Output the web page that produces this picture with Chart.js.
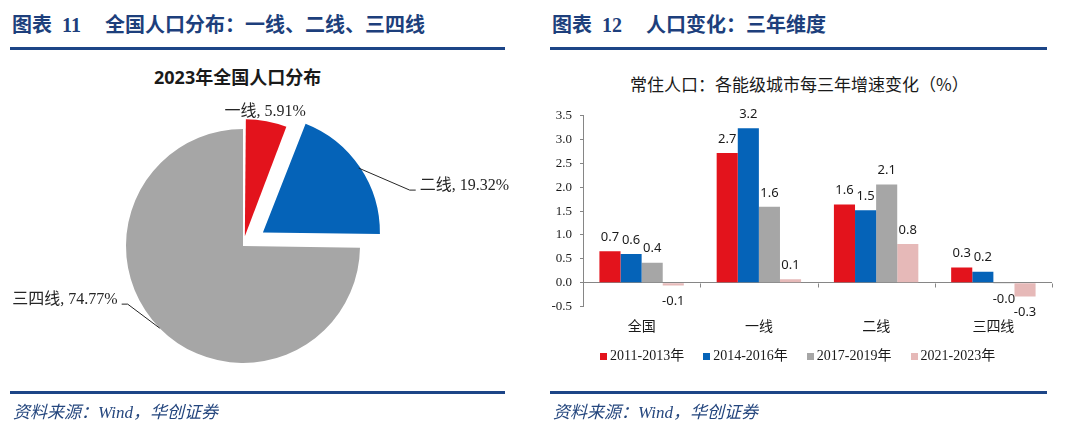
<!DOCTYPE html>
<html>
<head>
<meta charset="utf-8">
<script src="https://cdn.jsdelivr.net/npm/chart.js@4.4.0/dist/chart.umd.min.js"></script>
<style>
  body { margin: 0; width: 1080px; height: 432px; background: #fff; position: relative; overflow: hidden;
         font-family: "Liberation Serif", "Noto Sans CJK SC", serif; }
  .hd { position: absolute; top: 12px; font-weight: bold; font-size: 20px; line-height: 26px; color: #1d3f7c; white-space: nowrap; }
  .rule { position: absolute; height: 3px; background: #1c4587; z-index: 2; }
  .ft { position: absolute; top: 401px; font-style: italic; font-size: 17px; line-height: 24px; color: #24467e; white-space: nowrap; }
  .ctitle { position: absolute; white-space: nowrap; color: #1a1a1a; }
  #pieWrap { position: absolute; left: 0; top: 60px; width: 540px; height: 372px; }
  #barWrap { position: absolute; left: 540px; top: 100px; width: 530px; height: 250px; }
  #legend { position: absolute; left: 600px; top: 346px; display: flex; font-size: 14px; line-height: 20px; color: #1a1a1a; }
  #legend .item { display: flex; align-items: center; margin-right: 19px; }
  #legend .box { width: 7px; height: 7px; margin-right: 3px; }
</style>
</head>
<body>

<div class="hd" style="left:12px">图表<span style="margin-left:10px">11</span><span style="margin-left:24px">全国人口分布：一线、二线、三四线</span></div>
<div class="rule" style="left:10px; width:495px; top:47px"></div>
<div class="hd" style="left:552px">图表<span style="margin-left:10px">12</span><span style="margin-left:24px">人口变化：三年维度</span></div>
<div class="rule" style="left:550px; width:497px; top:47px"></div>

<div class="ctitle" style="left:154px; top:63px; font-size:18px; font-weight:bold; font-family:'Noto Sans','Noto Sans CJK SC',sans-serif;">2023年全国人口分布</div>
<div class="ctitle" style="left:630px; top:71px; font-size:17px; font-family:'Noto Sans CJK SC',sans-serif;">常住人口：各能级城市每三年增速变化（%）</div>

<div id="pieWrap"><canvas id="pieChart"></canvas></div>
<div id="barWrap"><canvas id="barChart"></canvas></div>
<div id="legend"></div>

<div class="rule" style="left:10px; width:495px; top:391px"></div>
<div class="rule" style="left:550px; width:497px; top:391px"></div>
<div class="ft" style="left:13px">资料来源：Wind，华创证券</div>
<div class="ft" style="left:553px">资料来源：Wind，华创证券</div>

<script>
// ---- pie data ----
const pieLabels = ["一线", "二线", "三四线"];
const pieValues = [5.91, 19.32, 74.77];
const pieColors = ["#e3131c", "#0563b8", "#a6a6a6"];

// ---- bar data ----
const cities = ["全国", "一线", "二线", "三四线"];
const periods = ["2011-2013年", "2014-2016年", "2017-2019年", "2021-2023年"];
const g2011 = [0.66, 2.72, 1.64, 0.32];
const g2014 = [0.60, 3.24, 1.52, 0.23];
const g2017 = [0.42, 1.59, 2.06, -0.02];
const g2021 = [-0.06, 0.07, 0.81, -0.29];
const barColors = ["#e3131c", "#0563b8", "#a6a6a6", "#e6b9b8"];

// -------------------------------
// Pie: keep exploded slices at the same radius
// (chart.js grows small offset arcs a bit)
// -------------------------------
const evenRadiusPlugin = {
  id: "evenRadius",
  afterDatasetUpdate(chart, args) {
    args.meta.data.forEach(arc => {
      const shift = (arc.options.offset || 0) / 4;
      const fix = 1 - Math.sin(Math.min(Math.PI, arc.circumference || 0));
      arc.outerRadius -= shift * fix;
    });
  }
};

// -------------------------------
// Pie labels with leader lines
// -------------------------------
const labelLayout = [
  { type: "above" },
  { type: "line", dx: 51, dy: 22, side: 1 },
  { type: "line", dx: -32, dy: -24, side: -1 }
];

const pieLabelPlugin = {
  id: "pieLabels",
  afterDatasetsDraw(chart) {
    const ctx = chart.ctx;
    const meta = chart.getDatasetMeta(0);
    ctx.save();
    ctx.font = '16px "Liberation Serif", "Noto Sans CJK SC"';
    ctx.fillStyle = "#262626";
    ctx.strokeStyle = "#262626";
    ctx.lineWidth = 1;
    meta.data.forEach((arc, i) => {
      const mid = (arc.startAngle + arc.endAngle) / 2;
      const shift = (arc.options.offset || 0) / 4;
      const r = arc.outerRadius + shift;
      const ex = arc.x + Math.cos(mid) * r;
      const ey = arc.y + Math.sin(mid) * r;
      const text = pieLabels[i] + ", " + pieValues[i].toFixed(2) + "%";
      const lay = labelLayout[i];
      if (lay.type === "above") {
        ctx.textAlign = "center";
        ctx.textBaseline = "middle";
        ctx.fillText(text, ex, ey - 16);
      } else {
        const bx = ex + lay.dx, by = ey + lay.dy;
        const cx = bx + lay.side * 6;
        ctx.beginPath();
        ctx.moveTo(ex, ey);
        ctx.lineTo(bx, by);
        ctx.lineTo(cx, by);
        ctx.stroke();
        ctx.textAlign = lay.side > 0 ? "left" : "right";
        ctx.textBaseline = "middle";
        ctx.fillText(text, cx + lay.side * 4, by - 4);
      }
    });
    ctx.restore();
  }
};

new Chart(document.getElementById("pieChart"), {
  type: "pie",
  data: {
    labels: pieLabels,
    datasets: [{
      data: pieValues,
      backgroundColor: pieColors,
      borderWidth: 0,
      offset: [40, 96, 0],
      hoverOffset: 0
    }]
  },
  options: {
    responsive: true,
    maintainAspectRatio: false,
    animation: false,
    layout: { padding: { left: 78, right: 132, top: 21, bottom: 21 } },
    plugins: { legend: { display: false }, tooltip: { enabled: false } }
  },
  plugins: [evenRadiusPlugin, pieLabelPlugin]
});

// -------------------------------
// Bar value labels + category ticks
// -------------------------------
const barValuePlugin = {
  id: "barValues",
  afterDatasetsDraw(chart) {
    const ctx = chart.ctx;
    ctx.save();
    ctx.font = '13px "Noto Sans", sans-serif';
    ctx.fillStyle = "#1a1a1a";
    ctx.textAlign = "center";
    ctx.textBaseline = "middle";
    chart.data.datasets.forEach((ds, i) => {
      chart.getDatasetMeta(i).data.forEach((bar, j) => {
        const v = ds.data[j];
        const y = v >= 0 ? bar.y - 14 : bar.y + 16;
        ctx.fillText(v.toFixed(1), bar.x, y);
      });
    });
    ctx.restore();
  }
};

const catTickPlugin = {
  id: "catTicks",
  afterDraw(chart) {
    const ctx = chart.ctx;
    const xs = chart.scales.x, ys = chart.scales.y;
    const y0 = Math.round(ys.getPixelForValue(0)) + 0.5;
    const step = xs.width / cities.length;
    ctx.save();
    ctx.strokeStyle = "#868686";
    ctx.lineWidth = 1;
    ctx.beginPath();
    for (let i = 1; i <= cities.length; i++) {
      const px = Math.round(xs.left + i * step) + 0.5;
      ctx.moveTo(px, y0);
      ctx.lineTo(px, y0 + 4);
    }
    ctx.stroke();
    ctx.restore();
  }
};

const series = [g2011, g2014, g2017, g2021];

new Chart(document.getElementById("barChart"), {
  type: "bar",
  data: {
    labels: cities,
    datasets: series.map((d, i) => ({
      label: periods[i],
      data: d,
      backgroundColor: barColors[i],
      borderWidth: 0,
      categoryPercentage: 0.72,
      barPercentage: 1.0
    }))
  },
  options: {
    responsive: true,
    maintainAspectRatio: false,
    animation: false,
    layout: { padding: { left: 0, right: 18, top: 14, bottom: 0 } },
    plugins: { legend: { display: false }, tooltip: { enabled: false } },
    scales: {
      x: {
        grid: { display: false, drawTicks: false },
        border: { display: false },
        ticks: { font: { family: "Noto Sans CJK SC", size: 14 }, color: "#1a1a1a", padding: 11 },
        afterFit: (s) => { s.height = 43.5; }
      },
      y: {
        min: -0.5,
        max: 3.5,
        ticks: {
          stepSize: 0.5,
          font: { family: "Liberation Serif", size: 13 },
          color: "#1a1a1a",
          padding: 8,
          callback: (v) => v.toFixed(1)
        },
        grid: {
          color: (c) => (c.tick && c.tick.value === 0 ? "#868686" : "rgba(0,0,0,0)"),
          tickColor: "#868686",
          tickLength: 3
        },
        border: { display: true, color: "#868686" },
        afterFit: (s) => { s.width = 43; }
      }
    }
  },
  plugins: [barValuePlugin, catTickPlugin]
});

// legend (html)
const legendEl = document.getElementById("legend");
periods.forEach((p, i) => {
  const item = document.createElement("div");
  item.className = "item";
  item.innerHTML = '<span class="box" style="background:' + barColors[i] + '"></span><span>' + p + "</span>";
  legendEl.appendChild(item);
});
</script>
</body>
</html>
